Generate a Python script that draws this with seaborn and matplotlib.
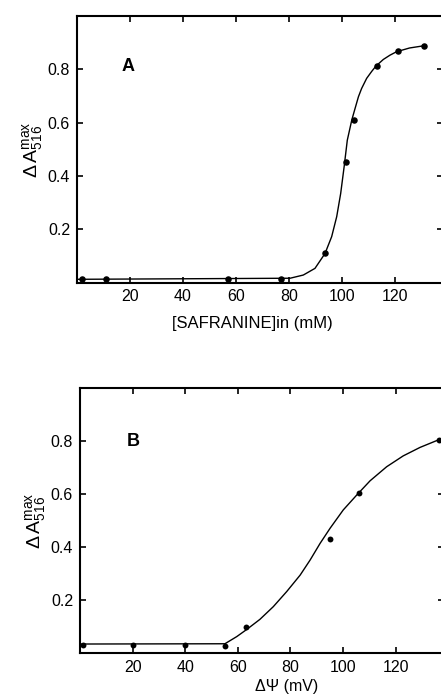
import matplotlib
matplotlib.use("Agg")
import matplotlib.pyplot as plt
import seaborn as sns
import pandas as pd

# ---- Panel A data ----
a_pts_x = [2, 11, 57, 77, 93.6, 101.5, 104.5, 113.1, 121, 131]
a_pts_y = [0.012, 0.012, 0.012, 0.015, 0.109, 0.453, 0.609, 0.812, 0.868, 0.888]
a_curve_x = [0, 80.4, 85.4, 89.8, 93.6, 96.1, 98.0, 99.5, 100.8, 102.0, 103.7,
             104.9, 106.2, 107.4, 109.3, 111.2, 112.8, 115.6, 118.1, 120.6, 125.5, 130.7]
a_curve_y = [0.012, 0.016, 0.028, 0.053, 0.109, 0.172, 0.247, 0.334, 0.434, 0.534,
             0.610, 0.652, 0.697, 0.728, 0.766, 0.792, 0.812, 0.837, 0.853, 0.866,
             0.880, 0.888]

# ---- Panel B data ----
b_pts_x = [1.3, 20, 40, 55.1, 63.1, 95.1, 106.2, 136.6]
b_pts_y = [0.031, 0.031, 0.031, 0.029, 0.098, 0.431, 0.604, 0.805]
b_curve_x = [0, 55.1, 59.6, 63.4, 68.4, 73.5, 78.6, 83.7, 87.5, 91.3, 95.1, 100.1,
             105.2, 110.3, 116.6, 122.9, 129.3, 136.2]
b_curve_y = [0.035, 0.036, 0.063, 0.090, 0.128, 0.176, 0.233, 0.295, 0.352, 0.415,
             0.472, 0.541, 0.597, 0.651, 0.704, 0.745, 0.777, 0.805]

x_ticks = [20, 40, 60, 80, 100, 120]
y_ticks = [0.2, 0.4, 0.6, 0.8]
y_ticklabels = ["0.2", "0.4", "0.6", "0.8"]

sns.set_theme(style="ticks")
fams = ["Liberation Sans", "DejaVu Sans"]
plt.rcParams["font.family"] = fams
plt.rcParams["mathtext.fontset"] = "custom"
plt.rcParams["mathtext.rm"] = "Liberation Sans"
plt.rcParams["mathtext.it"] = "Liberation Sans"
plt.rcParams["text.color"] = "black"
plt.rcParams["axes.labelcolor"] = "black"

W, H = 441, 697
fig = plt.figure(figsize=(W / 100, H / 100), dpi=100)

def px_axes(left, top, right, bottom):
    return fig.add_axes([left / W, 1 - bottom / H, (right - left) / W, (bottom - top) / H])

axA = px_axes(77, 16, 443, 282.5)
axB = px_axes(80, 388.3, 444, 653.3)

def style(ax, xmax):
    ax.set_xlim(0, xmax)
    ax.set_ylim(0, 1.0)
    ax.set_xticks(x_ticks)
    ax.set_xticklabels([str(t) for t in x_ticks])
    ax.set_yticks(y_ticks)
    ax.set_yticklabels(y_ticklabels)
    ax.tick_params(direction="in", length=4, width=1.2, top=True, right=True,
                   labelsize=11.5, pad=5, colors="black", labelcolor="black")
    for s in ax.spines.values():
        s.set_linewidth(1.5)
        s.set_color("black")
        s.set_visible(True)
    ax.set_facecolor("white")

dfA_c = pd.DataFrame({"x": a_curve_x, "y": a_curve_y})
dfA_p = pd.DataFrame({"x": a_pts_x, "y": a_pts_y})
dfB_c = pd.DataFrame({"x": b_curve_x, "y": b_curve_y})
dfB_p = pd.DataFrame({"x": b_pts_x, "y": b_pts_y})

sns.lineplot(data=dfA_c, x="x", y="y", ax=axA, color="black", linewidth=1.0,
             sort=False, estimator=None)
sns.scatterplot(data=dfA_p, x="x", y="y", ax=axA, color="black", s=22,
                edgecolor="black", linewidth=0, clip_on=False, zorder=5)
sns.lineplot(data=dfB_c, x="x", y="y", ax=axB, color="black", linewidth=1.0,
             sort=False, estimator=None)
sns.scatterplot(data=dfB_p, x="x", y="y", ax=axB, color="black", s=18,
                edgecolor="black", linewidth=0, zorder=5)

style(axA, (443 - 77) / 2.65)
style(axB, (444 - 80) / 2.63)

ylab = r"$\Delta\,\mathrm{A}_{516}^{\mathrm{max}}$"
axA.set_ylabel(ylab, fontsize=14, labelpad=2, color="black")
axB.set_ylabel(ylab, fontsize=14, labelpad=2, color="black")

axA.set_xlabel("[SAFRANINE]in (mM)", fontsize=12, color="black")
axA.xaxis.set_label_coords((252 - 77) / 366, (282.5 - 316) / 266.5)
axB.set_xlabel("ΔΨ (mV)", fontsize=11.5, color="black")
axB.xaxis.set_label_coords((287 - 80) / 364, (653.3 - 679) / 265)

axA.text((128 - 77) / 2.65, 0.81, "A", fontsize=13, fontweight="bold",
         ha="center", va="center", color="black")
axB.text((133 - 80) / 2.63, 0.8, "B", fontsize=13, fontweight="bold",
         ha="center", va="center", color="black")

fig.savefig("out.png", dpi=100, facecolor="white")
